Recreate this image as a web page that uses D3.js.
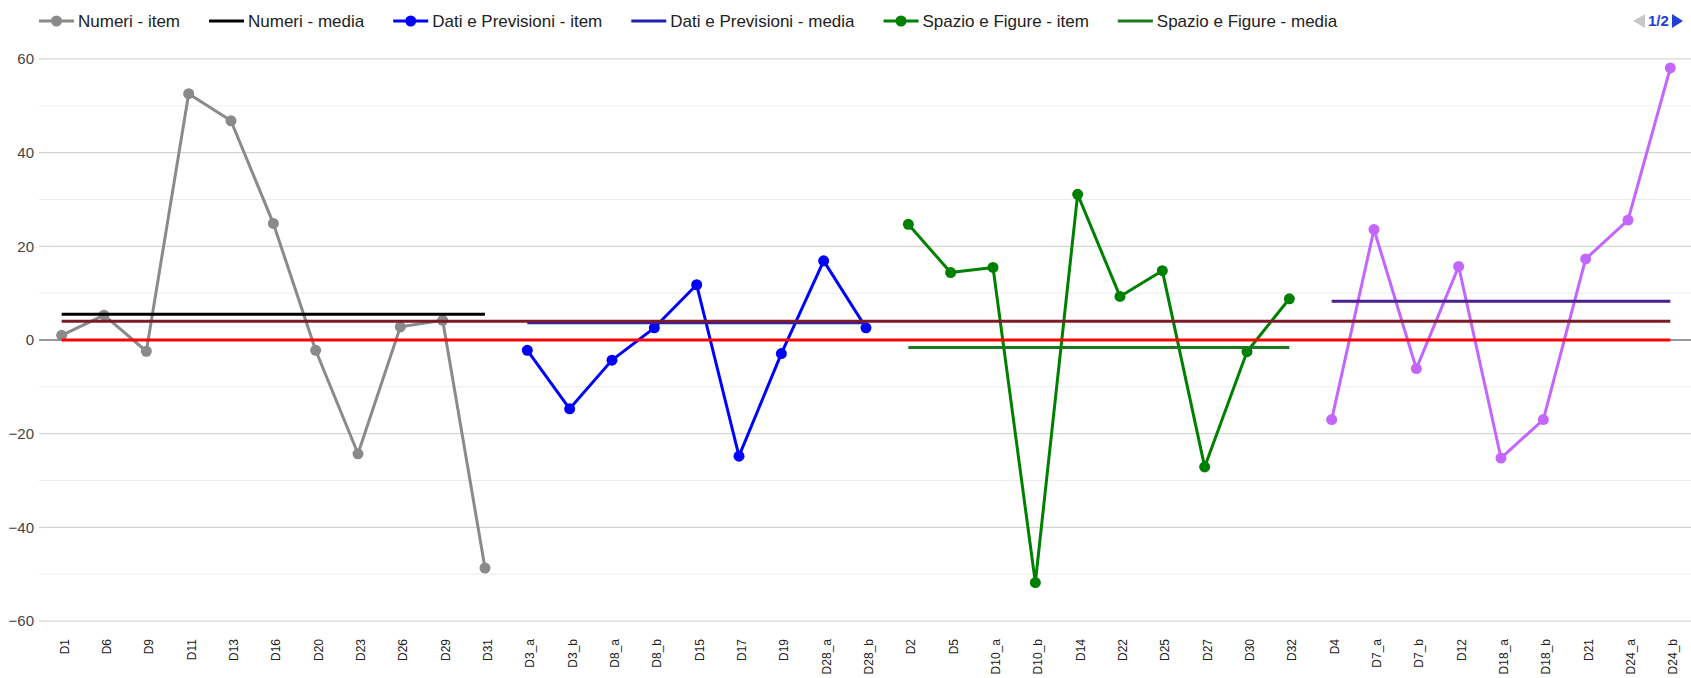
<!DOCTYPE html>
<html>
<head>
<meta charset="utf-8">
<script src="https://cdn.jsdelivr.net/npm/d3@7"></script>
<style>
  html, body { margin: 0; padding: 0; background: #fff; }
  svg { display: block; font-family: "Liberation Sans", Arial, sans-serif; }
</style>
</head>
<body>
<svg id="chart" width="1691" height="678"></svg>
<script>
// ---- DATA ----
const numeriCats = ["D1","D6","D9","D11","D13","D16","D20","D23","D26","D29","D31"];
const numeriItem = [1.0, 5.3, -2.4, 52.6, 46.8, 24.9, -2.2, -24.3, 2.8, 4.2, -48.7];
const numeriMedia = 5.5;

const datiCats = ["D3_a","D3_b","D8_a","D8_b","D15","D17","D19","D28_a","D28_b"];
const datiItem = [-2.2, -14.7, -4.3, 2.6, 11.8, -24.8, -2.9, 16.9, 2.6];
const datiMedia = 3.7;

const spazioCats = ["D2","D5","D10_a","D10_b","D14","D22","D25","D27","D30","D32"];
const spazioItem = [24.7, 14.4, 15.5, -51.8, 31.1, 9.3, 14.8, -27.1, -2.5, 8.8];
const spazioMedia = -1.6;

const relazCats = ["D4","D7_a","D7_b","D12","D18_a","D18_b","D21","D24_a","D24_b"];
const relazItem = [-17.0, 23.6, -6.1, 15.7, -25.2, -17.0, 17.3, 25.6, 58.1];
const relazMedia = 8.3;

const mediaGenerale = 4.0;
const zeroValue = 0;

const yTickValues = [-60, -40, -20, 0, 20, 40, 60];
const yMinorValues = [-50, -30, -10, 10, 30, 50];

const legendLabels = ["Numeri - item", "Numeri - media", "Dati e Previsioni - item",
  "Dati e Previsioni - media", "Spazio e Figure - item", "Spazio e Figure - media"];
const pagerLabel = "1/2";

// ---- STYLES ----
const groups = [
  { cats: numeriCats, vals: numeriItem, media: numeriMedia, color: "#8a8a8a", mediaColor: "#000000" },
  { cats: datiCats, vals: datiItem, media: datiMedia, color: "#0000ff", mediaColor: "#2222b0" },
  { cats: spazioCats, vals: spazioItem, media: spazioMedia, color: "#008000", mediaColor: "#1c7a1c" },
  { cats: relazCats, vals: relazItem, media: relazMedia, color: "#c266ff", mediaColor: "#4b1f8f" }
];
const allCats = [].concat(numeriCats, datiCats, spazioCats, relazCats);

const svg = d3.select("#chart");
const x = d3.scalePoint().domain(allCats).range([40.5, 1691.5]).padding(0.5);
const y = d3.scaleLinear().domain([-60, 60]).range([621, 59]);
const plotLeft = 39, plotRight = 1691;

// grid
svg.append("g").selectAll("line").data(yMinorValues).join("line")
  .attr("x1", plotLeft).attr("x2", plotRight)
  .attr("y1", d => y(d)).attr("y2", d => y(d))
  .attr("stroke", "#ebebeb").attr("stroke-width", 1);
svg.append("g").selectAll("line").data(yTickValues.filter(d => d !== 0)).join("line")
  .attr("x1", plotLeft).attr("x2", plotRight)
  .attr("y1", d => y(d)).attr("y2", d => y(d))
  .attr("stroke", "#cccccc").attr("stroke-width", 1);
svg.append("line")
  .attr("x1", plotLeft).attr("x2", plotRight)
  .attr("y1", y(0)).attr("y2", y(0))
  .attr("stroke", "#333333").attr("stroke-width", 1);

// y axis labels
const yAxis = d3.axisLeft(y).tickValues(yTickValues).tickSize(0).tickPadding(0);
const yg = svg.append("g").attr("transform", "translate(34,0)").call(yAxis);
yg.select(".domain").remove();
yg.selectAll("text").attr("font-size", 15).attr("fill", "#444").attr("font-family", "Liberation Sans, Arial, sans-serif");

// x axis labels
const xAxis = d3.axisBottom(x).tickSize(0).tickPadding(0);
const xg = svg.append("g").attr("transform", "translate(0,639)").call(xAxis);
xg.select(".domain").remove();
xg.selectAll("text")
  .attr("font-size", 12).attr("fill", "#222").attr("font-family", "Liberation Sans, Arial, sans-serif")
  .attr("text-anchor", "end")
  .attr("dy", null).attr("y", 0)
  .attr("transform", "translate(6.5,0) rotate(-90)");

// series
const line = d3.line().x(d => x(d[0])).y(d => y(d[1]));
groups.forEach(g => {
  const pts = g.cats.map((c, i) => [c, g.vals[i]]);
  svg.append("path").attr("d", line(pts))
    .attr("fill", "none").attr("stroke", g.color).attr("stroke-width", 3)
    .attr("stroke-linejoin", "round");
  svg.append("g").selectAll("circle").data(pts).join("circle")
    .attr("cx", d => x(d[0])).attr("cy", d => y(d[1])).attr("r", 5.5)
    .attr("fill", g.color);
  const mPts = [[g.cats[0], g.media], [g.cats[g.cats.length - 1], g.media]];
  svg.append("path").attr("d", line(mPts))
    .attr("fill", "none").attr("stroke", g.mediaColor).attr("stroke-width", 3);
});
// overall mean and zero reference
const firstCat = allCats[0], lastCat = allCats[allCats.length - 1];
svg.append("path").attr("d", line([[firstCat, mediaGenerale], [lastCat, mediaGenerale]]))
  .attr("fill", "none").attr("stroke", "#7f1a28").attr("stroke-width", 3);
svg.append("path").attr("d", line([[firstCat, zeroValue], [lastCat, zeroValue]]))
  .attr("fill", "none").attr("stroke", "#ff0000").attr("stroke-width", 3);

// legend
const legendStyles = [
  { color: "#8a8a8a", marker: true }, { color: "#000000", marker: false },
  { color: "#0000ff", marker: true }, { color: "#2222b0", marker: false },
  { color: "#008000", marker: true }, { color: "#1c7a1c", marker: false }
];
const lg = svg.append("g").attr("transform", "translate(0,21)");
let lx = 39;
legendLabels.forEach((lab, i) => {
  const st = legendStyles[i];
  lg.append("line").attr("x1", lx).attr("x2", lx + 35).attr("y1", 0).attr("y2", 0)
    .attr("stroke", st.color).attr("stroke-width", 3);
  if (st.marker) lg.append("circle").attr("cx", lx + 17.5).attr("cy", 0).attr("r", 5.5).attr("fill", st.color);
  const t = lg.append("text").attr("x", lx + 39).attr("y", 0).attr("dy", "0.35em")
    .attr("font-size", 17).attr("fill", "#222").text(lab);
  lx = lx + 39 + t.node().getComputedTextLength() + 29;
});
// pager
lg.append("polygon").attr("points", "1633,0 1645,-7 1645,7").attr("fill", "#c8c8c8");
lg.append("text").attr("x", 1648).attr("y", 0).attr("dy", "0.35em")
  .attr("font-size", 15).attr("font-weight", "bold").attr("fill", "#1f3fd6").text(pagerLabel);
lg.append("polygon").attr("points", "1672,-7 1672,7 1683,0").attr("fill", "#1f3fd6");
</script>
</body>
</html>
